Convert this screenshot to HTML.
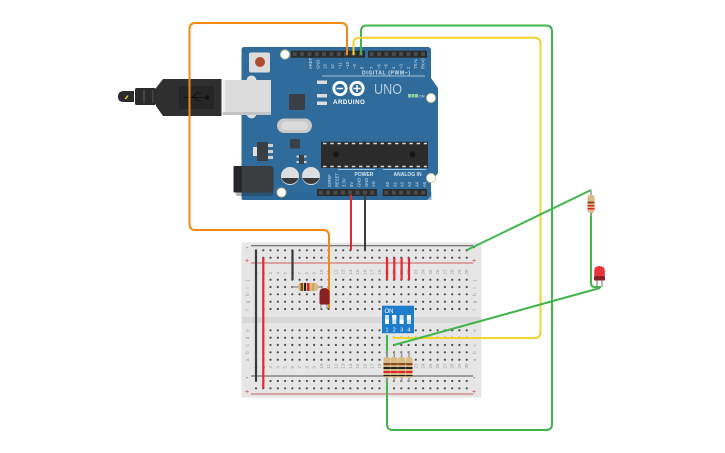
<!DOCTYPE html>
<html>
<head>
<meta charset="utf-8">
<style>
html,body{margin:0;padding:0;background:#fff;width:725px;height:453px;overflow:hidden}
svg{display:block}
text{font-family:"Liberation Sans",sans-serif}
</style>
</head>
<body>
<svg id="s" xmlns="http://www.w3.org/2000/svg" width="725" height="453" viewBox="0 0 725 453">
<!-- Arduino board -->
<path d="M244 47H429L431 49V78L438 88V173L431 182V196L427 200H244Q241.500 200 241.500 197V50Q241.500 47 244 47Z" fill="#2f6c9c"/>
<rect x="241.500" y="192" width="190" height="8" fill="#2a6492" opacity=".5"/>
<!-- reset -->
<rect x="249" y="52.500" width="21" height="20" rx="2" fill="#dcdcdc"/>
<circle cx="260" cy="62" r="5" fill="#b04a2c"/>
<!-- mount holes -->
<g fill="#fff" stroke="#cfc98e" stroke-width="1">
<circle cx="285" cy="54.500" r="4.500"/><circle cx="431" cy="98" r="4.500"/><circle cx="431" cy="178" r="4.500"/><circle cx="281.500" cy="192.500" r="4.500"/>
</g>
<!-- headers -->
<g fill="#2b2b2b">
<rect x="291" y="50.700" width="74" height="7"/>
<rect x="368" y="50.700" width="59" height="7"/>
<rect x="317" y="189" width="60" height="7"/>
<rect x="382.700" y="189" width="44.300" height="7"/>
</g>
<g id="pins" fill="#4a4a4a"></g>
<!-- USB socket bumps + silver -->
<rect x="246.500" y="75.500" width="10" height="43" rx="5" fill="#dedede"/>
<rect x="222.500" y="80" width="48.500" height="35" fill="#dcdcdc"/>
<rect x="222.500" y="80" width="3" height="35" fill="#eeeeee"/>
<rect x="222.500" y="112" width="48.500" height="3" fill="#c4c4c4"/>
<!-- USB plug -->
<path d="M156 88L163 79H221.500V116H163L156 106Z" fill="#2f2f2f"/>
<rect x="179" y="86" width="35" height="23" fill="#262626"/>
<path d="M184 97.500H207" stroke="#111" stroke-width="1" fill="none"/>
<circle cx="207" cy="97.500" r="2.200" fill="#111"/>
<path d="M192 97.500L197 93H201M194 97.500L198 101H201" stroke="#111" stroke-width="1" fill="none"/>
<rect x="135" y="88" width="21" height="17" rx="1.500" fill="#2b2b2b"/>
<rect x="143" y="90" width="2" height="13" fill="#444"/>
<rect x="152" y="90" width="1.500" height="13" fill="#444"/>
<path d="M134 91H124Q118 91 118 97Q118 102 124 102H134Z" fill="#2b2b2b"/>
<path d="M125 99L128 95.500L126.500 98Z" fill="#e8d83a" stroke="#e8d83a" stroke-width="1"/>
<!-- components -->
<rect x="289" y="94" width="16" height="16" rx="1" fill="#3a3f45"/>
<rect x="277" y="118.500" width="35" height="14.500" rx="7.200" fill="#c9c9c9"/>
<rect x="281" y="121.500" width="27" height="8.500" rx="4.200" fill="#dadada"/>
<rect x="290" y="139" width="10" height="9.500" rx="1" fill="#3a3f45"/>
<rect x="253" y="147" width="5" height="9" fill="#e0e0e0"/>
<rect x="257" y="142" width="11" height="19" fill="#3a3f45"/>
<rect x="268" y="144" width="5" height="3" fill="#cfcfcf"/><rect x="268" y="150" width="5" height="3" fill="#cfcfcf"/><rect x="268" y="156" width="5" height="3" fill="#cfcfcf"/>
<rect x="299" y="155" width="5" height="9" fill="#3a3f45"/>
<g fill="#cfcfcf"><rect x="296.500" y="155.500" width="2.500" height="2"/><rect x="296.500" y="161" width="2.500" height="2"/><rect x="304" y="155.500" width="2.500" height="2"/><rect x="304" y="161" width="2.500" height="2"/></g>
<!-- jack -->
<rect x="236" y="169" width="37" height="27" rx="2" fill="#26292c" opacity=".35"/>
<rect x="233.500" y="166" width="40" height="26.500" rx="3" fill="#3a3c3e"/>
<rect x="233.500" y="166" width="8.500" height="26.500" rx="1" fill="#25272a"/>
<!-- caps -->
<g>
<circle cx="290" cy="176" r="9" fill="#dedede"/><path d="M281.500 178A9 9 0 0 0 298.500 178Z" fill="#3b3b3b"/>
<circle cx="311" cy="176" r="9" fill="#dedede"/><path d="M302.500 178A9 9 0 0 0 319.500 178Z" fill="#3b3b3b"/>
</g>
<!-- chip -->
<rect x="321" y="141.700" width="107" height="26.300" fill="#2b2b2b"/>
<path d="M323 143.500H427M323 166.500H427" stroke="#d8d8d8" stroke-width="1.500" stroke-dasharray="3.500 3.700" fill="none"/>
<circle cx="336" cy="154.500" r="3" fill="#151515"/><circle cx="412.500" cy="154.500" r="3" fill="#151515"/>
<!-- LEDs left -->
<g fill="#dcdcdc"><rect x="317" y="80.500" width="10" height="3.500"/><rect x="317" y="94" width="10" height="3.500"/><rect x="317" y="101.500" width="10" height="3.500"/></g>
<!-- logo -->
<g fill="none" stroke="#fff" stroke-width="2.800">
<circle cx="340" cy="88.500" r="6.200"/><circle cx="357" cy="88.500" r="6.200"/>
</g>
<path d="M336.500 88.500H343M353.500 88.500H360.500M357 85V92" stroke="#fff" stroke-width="1.500" fill="none"/>
<text x="333" y="104" font-size="6.200" font-weight="700" fill="#fff" letter-spacing=".5">ARDUINO</text>
<text x="374" y="94" font-size="15" fill="#b5cde0" textLength="28" lengthAdjust="spacingAndGlyphs">UNO</text>
<g><rect x="408" y="94" width="3" height="3.500" fill="#9fc9a8"/><rect x="411.500" y="94" width="3" height="3.500" fill="#7fe08a"/><rect x="415" y="94" width="3" height="3.500" fill="#9fc9a8"/></g>
<text x="418.500" y="97.500" font-size="4" fill="#d5e3ec">ON</text>
<text x="362" y="74.500" font-size="5" font-weight="700" fill="#d5e3ec" textLength="48">DIGITAL (PWM~)</text>
<path d="M322 76H425" stroke="#cfe0ec" stroke-width=".8"/>
<text x="354.500" y="176" font-size="5" font-weight="700" fill="#d5e3ec">POWER</text>
<text x="393.500" y="176" font-size="5" font-weight="700" fill="#d5e3ec">ANALOG IN</text>
<path d="M338 169.500H375M383 169.500H426" stroke="#cfe0ec" stroke-width=".8"/>
<g id="alabels" font-size="4.200" fill="#cfe0ec"></g>

<!-- Breadboard -->
<rect x="241.500" y="242.500" width="240" height="155" rx="1" fill="#e6e6e6"/>
<rect x="241.500" y="317" width="240" height="6" fill="#d8d8d8"/>
<path d="M251 263H473M251 394H473" stroke="#d07a7a" stroke-width="1.200"/>
<path d="M251 245.700H473M251 376H473" stroke="#555" stroke-width="1"/>
<g font-size="7" fill="#d33"><text x="245" y="263">+</text><text x="245" y="394">+</text><text x="472" y="263">+</text><text x="472" y="394">+</text></g>
<g font-size="7" fill="#555"><text x="246" y="250">-</text><text x="246" y="380">-</text><text x="473" y="250">-</text><text x="473" y="380">-</text></g>
<g id="holes" fill="#4a4a4a"></g>
<g id="blabels" font-size="4.500" fill="#999"></g>

<!-- breadboard wires -->
<g fill="none" stroke-linecap="butt">
<path d="M256 250V381" stroke="#3c3c3c" stroke-width="2.200"/>
<path d="M263.300 257.700V388.300" stroke="#e6282e" stroke-width="2.200"/>
<path d="M292.500 250V280" stroke="#3c3c3c" stroke-width="2.200"/>
<path d="M387 257.700V280M394.300 257.700V280M401.600 257.700V280M409 257.700V280" stroke="#e6282e" stroke-width="2.200"/>
<path d="M351 195V250" stroke="#e6282e" stroke-width="2"/>
<path d="M365 195V250" stroke="#3c3c3c" stroke-width="2"/>
</g>

<!-- Resistor horizontal -->
<path d="M292 287H323" stroke="#999" stroke-width="1.500"/>
<rect x="298" y="283" width="20" height="8" rx="3" fill="#d9bb85"/>
<rect x="300.500" y="283" width="2.500" height="8" fill="#8a4b20"/>
<rect x="304" y="283" width="2" height="8" fill="#222"/>
<rect x="307" y="283" width="2.500" height="8" fill="#e0242a"/>
<rect x="312.500" y="283" width="1.500" height="8" fill="#c7a040"/>

<!-- Wires -->
<g fill="none" stroke-width="2" stroke-linejoin="round">
<path d="M347 55V29Q347 23 341 23H195.500Q189.500 23 189.500 29V224Q189.500 230 195.500 230H323Q329 230 329 236V308" stroke="#f08a12"/>
<path d="M361 55V31Q361 25.500 367 25.500H546Q552 25.500 552 31.500V424Q552 430 546 430H393Q387 430 387 424V335" stroke="#3fb54a"/>
<path d="M353.500 55V43.500Q353.500 37.800 359.500 37.800H534.500Q540.500 37.800 540.500 43.800V332Q540.500 338 534.500 338H393" stroke="#f2d42e"/>
<path d="M467 250L591 190" stroke="#3fb54a"/>
<path d="M394 345L600 288" stroke="#3fb54a"/>
<path d="M591 213V283Q591 287 595 287H601" stroke="#3fb54a"/>
</g>
<!-- breadboard LED -->
<path d="M321 303V309M327 303V309" stroke="#888" stroke-width="1"/>
<path d="M319.500 293Q319.500 288 324.500 288Q329.500 288 329.500 293V303Q329.500 304.500 328 304.500H321Q319.500 304.500 319.500 303Z" fill="#8a2024"/>

<!-- DIP switch -->
<rect x="382" y="305.700" width="32" height="27.500" fill="#1e7ccb"/>
<text x="384.500" y="313" font-size="6" fill="#fff">ON</text>
<g fill="#cfe3f5"><rect x="385" y="315" width="4" height="9"/><rect x="392.300" y="315" width="4" height="9"/><rect x="399.600" y="315" width="4" height="9"/><rect x="406.900" y="315" width="4" height="9"/></g>
<g fill="#fff"><rect x="385" y="319.500" width="4" height="4.500"/><rect x="392.300" y="315" width="4" height="4.500"/><rect x="399.600" y="319.500" width="4" height="4.500"/><rect x="406.900" y="315" width="4" height="4.500"/></g>
<g font-size="5.500" fill="#fff"><text x="385.500" y="331.500">1</text><text x="392.800" y="331.500">2</text><text x="400.100" y="331.500">3</text><text x="407.400" y="331.500">4</text></g>

<!-- 4 resistors -->
<g id="rs"></g>

<!-- floating resistor -->
<path d="M591 189.500V216" stroke="#999" stroke-width="1.500"/>
<rect x="587.500" y="195" width="7" height="18" rx="2.500" fill="#d9bb85"/>
<rect x="587.500" y="201.500" width="7" height="2" fill="#8a4b20"/>
<rect x="587.500" y="205" width="7" height="1.500" fill="#e0242a"/>
<rect x="587.500" y="208" width="7" height="1.500" fill="#e0242a"/>
<!-- floating LED -->
<path d="M597 279V287M602 279V287" stroke="#888" stroke-width="1.200"/>
<path d="M594.200 276V271Q594.200 266 599.500 266Q604.800 266 604.800 271V276Z" fill="#e8343c"/>
<rect x="594" y="276" width="11" height="4.500" rx="1" fill="#8a2024"/>
</svg>
<script>
var NS="http://www.w3.org/2000/svg";
function el(p,t,a,txt){var e=document.createElementNS(NS,t);for(var k in a)e.setAttribute(k,a[k]);if(txt)e.textContent=txt;document.getElementById(p).appendChild(e);}
var i,j;
var dx=7.265,x0=256;
var rows=[250.3,257.7,279.7,287,294.3,301.7,309,330.3,337.7,345,352.3,359.7,381,388.3];
for(j=0;j<rows.length;j++)for(i=0;i<30;i++)el("holes","circle",{cx:(x0+i*dx).toFixed(1),cy:rows[j].toFixed(1),r:1.1});
for(i=0;i<30;i++){var x=(x0+i*dx).toFixed(1);
 el("blabels","text",{transform:"translate("+(+x+1.5)+",274.5) rotate(-90)"},String(i+1));
 el("blabels","text",{transform:"translate("+(+x+1.5)+",368.5) rotate(-90)"},String(i+1));}
["j","i","h","g","f"].forEach(function(c,k){var y=rows[2+k]+1.5;
 el("blabels","text",{transform:"translate(249,"+y+") rotate(-90)"},c);el("blabels","text",{transform:"translate(476,"+y+") rotate(-90)"},c);});
["e","d","c","b","a"].forEach(function(c,k){var y=rows[7+k]+1.5;
 el("blabels","text",{transform:"translate(249,"+y+") rotate(-90)"},c);el("blabels","text",{transform:"translate(476,"+y+") rotate(-90)"},c);});
function pins(a,b,y){for(var x=a;x<b-3;x+=7.35)el("pins","rect",{x:(x+1.7).toFixed(1),y:y+1.5,width:4,height:4});}
pins(291,365,50.7);pins(368,427,50.7);pins(317,377,189);pins(382.7,427,189);
["AREF","GND","13","12","~11","~10","~9","8"].forEach(function(t,k){el("alabels","text",{transform:"translate("+(312+k*7.35)+",69) rotate(-90)"},t);});
["7","~6","~5","4","~3","2","TX>1","RX<0"].forEach(function(t,k){el("alabels","text",{transform:"translate("+(373+k*7.35)+",69) rotate(-90)"},t);});
["IOREF","RESET","3.3V","5V","GND","GND","Vin"].forEach(function(t,k){el("alabels","text",{transform:"translate("+(331+k*7.35)+",187) rotate(-90)"},t);});
["A0","A1","A2","A3","A4","A5"].forEach(function(t,k){el("alabels","text",{transform:"translate("+(389+k*7.35)+",187) rotate(-90)"},t);});
[387,394.3,401.6,409].forEach(function(x){
 el("rs","path",{d:"M"+x+" 351V382",stroke:"#999","stroke-width":1.5});
 el("rs","rect",{x:x-3.5,y:357,width:7,height:21,rx:2.5,fill:"#d9bb85"});
 el("rs","rect",{x:x-3.5,y:363,width:7,height:2.2,fill:"#8a4b20"});
 el("rs","rect",{x:x-3.5,y:367,width:7,height:2,fill:"#222"});
 el("rs","rect",{x:x-3.5,y:371,width:7,height:2,fill:"#e0242a"});
 el("rs","rect",{x:x-3.5,y:375,width:7,height:1.2,fill:"#222"});
});
</script>
</body>
</html>
